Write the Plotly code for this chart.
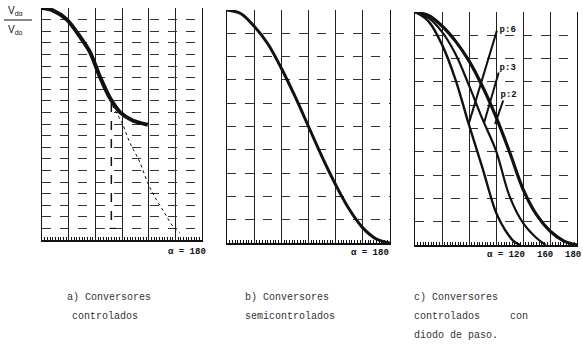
import plotly.graph_objects as go

W, H = 583, 358

# ---------------- data ----------------
# a) Conversores controlados
a_alpha = [0, 12, 28, 43, 54, 65, 76, 88, 102, 119]
a_v = [1.0, 0.99, 0.95, 0.875, 0.81, 0.705, 0.615, 0.55, 0.515, 0.497]
a_thin_alpha = [79, 90, 99, 110, 119, 127, 138, 147, 155]
a_thin_v = [0.58, 0.504, 0.418, 0.336, 0.246, 0.185, 0.116, 0.06, 0.03]
a_mark_alpha = [78, 78]
a_mark_v = [0.59, 0.05]
a_tick_alpha = [76, 83]
a_tick_v = [0.05, 0.05]

# b) Conversores semicontrolados
b_alpha = [0, 15, 30, 45, 60, 75, 90, 105, 120, 135, 150, 165, 180]
b_v = [1.0, 0.985, 0.93, 0.855, 0.75, 0.63, 0.5, 0.37, 0.25, 0.145, 0.065, 0.017, 0.0]

# c) Conversores controlados con diodo de paso
c2_alpha = [0, 15, 30, 45, 60, 75, 90, 105, 120, 135, 150, 165, 180]
c2_v = [1.0, 0.985, 0.94, 0.875, 0.79, 0.68, 0.55, 0.40, 0.24, 0.13, 0.06, 0.018, 0.0]
c3_alpha = [0, 15, 30, 45, 60, 75, 90, 105, 120, 135, 145]
c3_v = [1.0, 0.975, 0.915, 0.82, 0.685, 0.54, 0.405, 0.21, 0.095, 0.03, 0.0]
c6_alpha = [0, 15, 30, 45, 60, 75, 90, 100, 110, 117]
c6_v = [1.0, 0.96, 0.86, 0.71, 0.515, 0.33, 0.14, 0.065, 0.015, 0.0]

p_labels = ["<b>p:6</b>", "<b>p:3</b>", "<b>p:2</b>"]
p_label_alpha = [103, 103, 104]
p_label_v = [0.923, 0.76, 0.644]
p_line_alpha = [[91, 60], [93, 76.7], [98, 89]]
p_line_v = [[0.92, 0.524], [0.74, 0.524], [0.62, 0.52]]

captions = [
    ("a) Conversores", 65, 297), ("controlados", 70, 316),
    ("b) Conversores", 243, 297), ("semicontrolados", 243, 316),
    ("c) Conversores", 412, 297), ("controlados     con", 412, 316),
    ("diodo de paso.", 412, 335),
]
alpha_labels = [("α = 180", 187, 252), ("α = 180", 370, 253), ("α = 120", 506, 255),
                ("160", 545, 255), ("180", 573, 255)]

# ---------------- figure ----------------
def xd(a, b):
    return [a / W, b / W]


def yd(top, bottom):
    return [1 - bottom / H, 1 - top / H]


fig = go.Figure()

ink = "#111111"
mono = "Liberation Mono"

# panel a
fig.add_trace(go.Scatter(x=a_alpha, y=a_v, mode="lines",
                         line=dict(color=ink, width=4, shape="spline", smoothing=0.8),
                         xaxis="x", yaxis="y", showlegend=False))
fig.add_trace(go.Scatter(x=a_thin_alpha, y=a_thin_v, mode="lines",
                         line=dict(color=ink, width=1, dash="dot", shape="spline"),
                         xaxis="x", yaxis="y", showlegend=False))
fig.add_trace(go.Scatter(x=a_mark_alpha, y=a_mark_v, mode="lines", line=dict(color=ink, width=1.5, dash="dash"),
                         xaxis="x", yaxis="y", showlegend=False))
fig.add_trace(go.Scatter(x=a_tick_alpha, y=a_tick_v, mode="lines", line=dict(color=ink, width=1.2),
                         xaxis="x", yaxis="y", showlegend=False))

# panel b
fig.add_trace(go.Scatter(x=b_alpha, y=b_v, mode="lines", line=dict(color=ink, width=3, shape="spline"),
                         xaxis="x2", yaxis="y2", showlegend=False))

# panel c
fig.add_trace(go.Scatter(x=c2_alpha, y=c2_v, mode="lines", line=dict(color=ink, width=3.2, shape="spline"),
                         xaxis="x3", yaxis="y3", showlegend=False))
fig.add_trace(go.Scatter(x=c3_alpha, y=c3_v, mode="lines", line=dict(color=ink, width=2.2, shape="spline"),
                         xaxis="x3", yaxis="y3", showlegend=False))
fig.add_trace(go.Scatter(x=c6_alpha, y=c6_v, mode="lines", line=dict(color=ink, width=2.4, shape="spline"),
                         xaxis="x3", yaxis="y3", showlegend=False))
for lx, ly in zip(p_line_alpha, p_line_v):
    fig.add_trace(go.Scatter(x=lx, y=ly, mode="lines", line=dict(color=ink, width=2),
                             xaxis="x3", yaxis="y3", showlegend=False))
fig.add_trace(go.Scatter(x=p_label_alpha, y=p_label_v, mode="text", text=p_labels,
                         textfont=dict(family=mono, size=9, color=ink), textposition="middle center",
                         xaxis="x3", yaxis="y3", showlegend=False))


def xaxis(domain, anchor):
    return dict(domain=domain, anchor=anchor, range=[0, 180], dtick=30, tick0=0,
                showgrid=True, gridcolor="#222", gridwidth=1, zeroline=False,
                showticklabels=False, ticks="", showline=True, linecolor=ink, linewidth=2,
                minor=dict(ticks="inside", dtick=3, ticklen=3, tickcolor=ink, tickwidth=1, showgrid=False),
                fixedrange=True)


def yaxis(domain, anchor, dt):
    return dict(domain=domain, anchor=anchor, range=[0, 1], dtick=dt, tick0=0,
                showgrid=True, gridcolor="#333", gridwidth=1, griddash="dash", zeroline=False,
                showticklabels=False, ticks="", showline=True, mirror=True, linecolor=ink, linewidth=1.2,
                fixedrange=True)


fig.update_layout(
    width=W, height=H, margin=dict(l=0, r=0, t=0, b=0),
    paper_bgcolor="white", plot_bgcolor="white",
    xaxis=xaxis(xd(42, 202), "y"), yaxis=yaxis(yd(8, 240), "x", 0.05),
    xaxis2=xaxis(xd(227, 390), "y2"), yaxis2=yaxis(yd(10, 243), "x2", 0.1),
    xaxis3=xaxis(xd(415, 577), "y3"), yaxis3=yaxis(yd(12, 245), "x3", 0.1),
)

ann = []
# y label fraction
ann.append(dict(text="V<sub>dα</sub>", x=6 / W, y=1 - 11 / H, xref="paper", yref="paper",
                xanchor="left", yanchor="middle", showarrow=False,
                font=dict(family="Liberation Sans", size=10, color=ink)))
ann.append(dict(text="V<sub>do</sub>", x=6 / W, y=1 - 30 / H, xref="paper", yref="paper",
                xanchor="left", yanchor="middle", showarrow=False,
                font=dict(family="Liberation Sans", size=10, color=ink)))
for txt, xc, yc in alpha_labels:
    ann.append(dict(text="<b>" + txt + "</b>", x=xc / W, y=1 - yc / H, xref="paper", yref="paper",
                    xanchor="center", yanchor="middle", showarrow=False,
                    font=dict(family=mono, size=9, color=ink)))
for txt, xl, yc in captions:
    ann.append(dict(text=txt.replace(" ", "&nbsp;"), x=xl / W, y=1 - yc / H, xref="paper", yref="paper",
                    xanchor="left", yanchor="middle", showarrow=False,
                    font=dict(family=mono, size=10, color="#333")))
fig.update_layout(annotations=ann)

fig.update_layout(shapes=[dict(type="line", xref="paper", yref="paper", x0=4 / W, x1=32 / W,
                               y0=1 - 20 / H, y1=1 - 20 / H, line=dict(color=ink, width=1))])

fig.write_html("out.html", config={"displayModeBar": False},
               post_script="document.body.style.margin='0';document.body.style.overflow='hidden';")
